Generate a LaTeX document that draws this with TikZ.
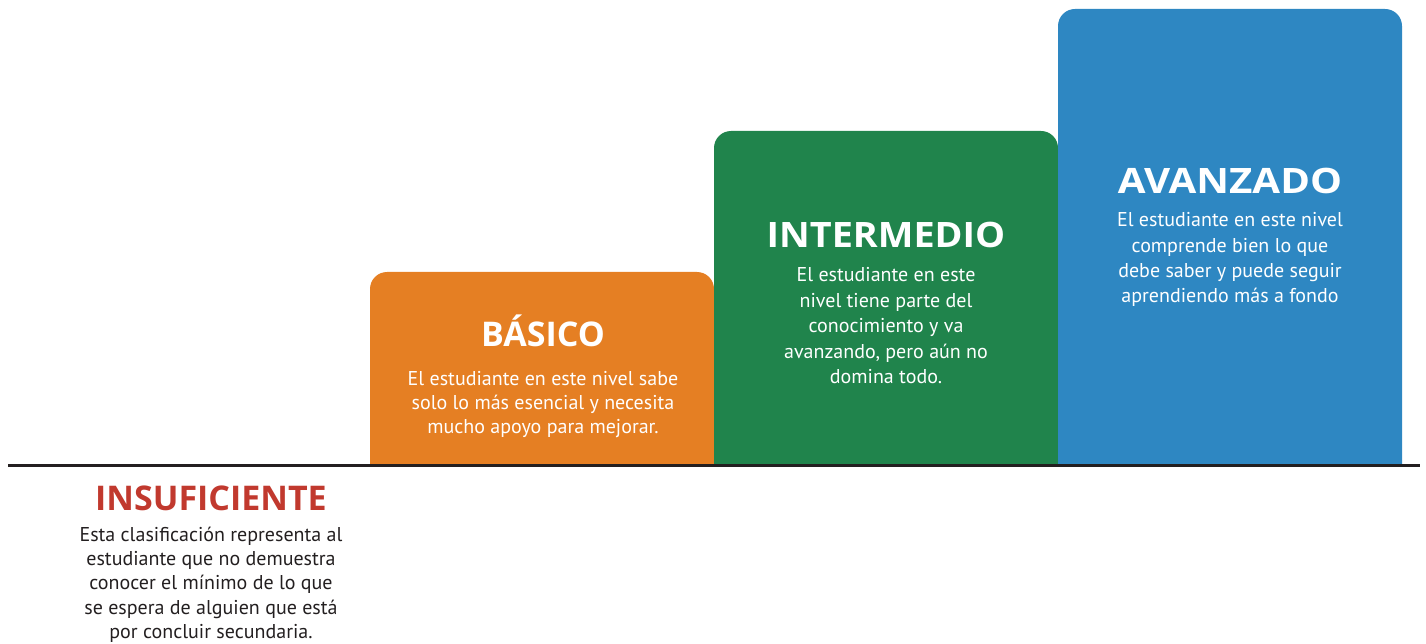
\documentclass[tikz,border=0pt]{standalone}
\usepackage{fontspec}
\setmainfont{PT Sans}
\newfontfamily\titlefont{Open Sans}
\definecolor{cOrange}{HTML}{E57F23}
\definecolor{cGreen}{HTML}{20844C}
\definecolor{cBlue}{HTML}{2E87C2}
\definecolor{cRed}{HTML}{C1392E}
\definecolor{cDark}{HTML}{231F20}
\newcommand\bodysz[1]{\fontsize{20}{#1}\selectfont}
\tikzset{
  title/.style={anchor=base, inner sep=0pt, text=white, font=\titlefont\bfseries\fontsize{34}{40}\selectfont},
  bigtitle/.style={title, font=\titlefont\bfseries\fontsize{35}{40}\selectfont},
  body/.style={anchor=north, inner sep=0pt, align=center, text=white},
  stepbox/.style={line width=0pt},
}
\begin{document}
\begin{tikzpicture}[x=1pt,y=-1pt]
\useasboundingbox (0,0) rectangle (1426,644);
\def\r{17}
% boxes
\fill[cOrange] (370,465) -- (370,272+\r) arc[start angle=180,end angle=270,radius=\r] -- (714-\r,272) arc[start angle=270,end angle=360,radius=\r] -- (714,465) -- cycle;
\fill[cGreen] (714,465) -- (714,131+\r) arc[start angle=180,end angle=270,radius=\r] -- (1058-\r,131) arc[start angle=270,end angle=360,radius=\r] -- (1058,465) -- cycle;
\fill[cBlue] (1058,465) -- (1058,9+\r) arc[start angle=180,end angle=270,radius=\r] -- (1402-\r,9) arc[start angle=270,end angle=360,radius=\r] -- (1402,465) -- cycle;
% baseline
\coordinate (lineL) at (8,465);
\coordinate (lineR) at (1420,465);
\draw[cDark, line width=3pt] (lineL) -- (lineR);
% texts
\node[title] (basT) at (543,346) {BÁSICO};
\node[body, font=\bodysz{23.6}] (basB) at (543,371.5) {El estudiante en este nivel sabe\\solo lo más esencial y necesita\\mucho apoyo para mejorar.};
\node[bigtitle] (intT) at (886,248) {\scalebox{1.08}[1]{INTERMEDIO}};
\node[body, font=\bodysz{25.4}] (intB) at (886,267.5) {El estudiante en este\\nivel tiene parte del\\conocimiento y va\\avanzando, pero aún no\\domina todo.};
\node[bigtitle] (avaT) at (1230,194) {\scalebox{1.15}[1]{AVANZADO}};
\node[body, font=\bodysz{25.3}] (avaB) at (1230,212.5) {El estudiante en este nivel\\comprende bien lo que\\debe saber y puede seguir\\aprendiendo más a fondo};
\node[title, text=cRed] (insT) at (211,510) {INSUFICIENTE};
\node[body, text=cDark, font=\bodysz{24.3}] (insB) at (211,526.5) {Esta clasificación representa al\\estudiante que no demuestra\\conocer el mínimo de lo que\\se espera de alguien que está\\por concluir secundaria.};
\end{tikzpicture}
\end{document}
